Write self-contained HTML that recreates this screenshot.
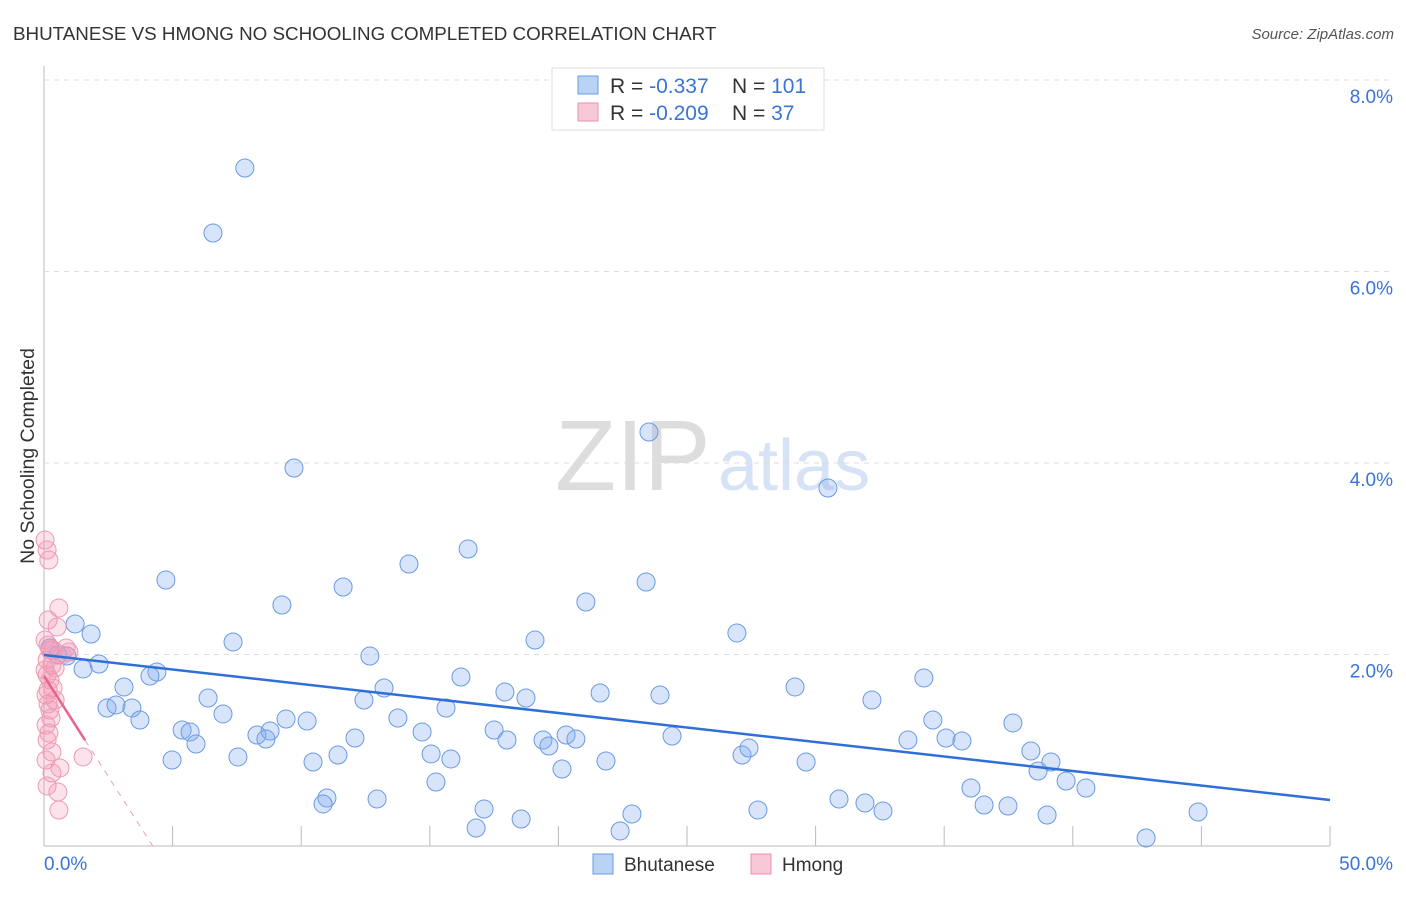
<!DOCTYPE html>
<html><head><meta charset="utf-8"><style>
body{margin:0;background:#fff;font-family:"Liberation Sans",sans-serif;}
svg text{font-family:"Liberation Sans",sans-serif;}
</style></head><body>
<svg id="c" width="1406" height="892">
<text x="13" y="40" font-size="18.8" fill="#333">BHUTANESE VS HMONG NO SCHOOLING COMPLETED CORRELATION CHART</text>
<text x="1394" y="39" font-size="15" fill="#555" font-style="italic" text-anchor="end">Source: ZipAtlas.com</text>
<text transform="translate(34,456) rotate(-90)" font-size="19.5" fill="#333" text-anchor="middle">No Schooling Completed</text>
<text x="555" y="490" font-size="100" fill="#ddd" font-family="Liberation Serif">ZIP</text>
<text x="718" y="490" font-size="72" fill="#d6e2f5">atlas</text>
<g id="grid"></g><g id="pts"></g><g id="lines"></g>
<g>
<rect x="552" y="68" width="272" height="62" fill="#fff" stroke="#ddd"/>
<rect x="578" y="76" width="20" height="18" fill="#b9d3f5" stroke="#6c9be0"/>
<rect x="578" y="103" width="20" height="18" fill="#f9c8d6" stroke="#ec8fab"/>
<text x="610" y="93" font-size="21" fill="#333">R = <tspan fill="#3a74d6">-0.337</tspan></text>
<text x="732" y="93" font-size="21" fill="#333">N = <tspan fill="#3a74d6">101</tspan></text>
<text x="610" y="120" font-size="21" fill="#333">R = <tspan fill="#3a74d6">-0.209</tspan></text>
<text x="732" y="120" font-size="21" fill="#333">N = <tspan fill="#3a74d6"> 37</tspan></text>
</g>
<g>
<rect x="593" y="854" width="20" height="20" fill="#b9d3f5" stroke="#6c9be0"/>
<text x="624" y="871" font-size="19" fill="#333">Bhutanese</text>
<rect x="751" y="854" width="20" height="20" fill="#f9c8d6" stroke="#ec8fab"/>
<text x="782" y="871" font-size="19" fill="#333">Hmong</text>
</g>
<text x="44" y="870" font-size="19" fill="#3a74d6">0.0%</text>
<text x="1393" y="870" font-size="19" fill="#3a74d6" text-anchor="end">50.0%</text>
</svg>
<script>
const yTicks=[2,4,6,8];
const xTicks=[0,5,10,15,20,25,30,35,40,45,50];
const bluePx=[[245,168],[213,233],[649,432],[294,468],[828,488],[468,549],[409,564],[166,580],[343,587],[646,582],[282,605],[586,602],[75,624],[91,634],[233,642],[535,640],[737,633],[50,648],[58,655],[67,656],[370,656],[99,664],[83,669],[157,672],[150,676],[461,677],[924,678],[124,687],[384,688],[795,687],[505,692],[600,693],[208,698],[660,695],[364,700],[526,698],[872,700],[107,708],[116,705],[132,708],[223,714],[446,708],[140,720],[286,719],[307,721],[398,718],[933,720],[1013,723],[182,730],[190,732],[422,732],[494,730],[270,731],[257,735],[266,739],[196,744],[355,738],[507,740],[543,740],[549,746],[566,735],[576,739],[672,736],[908,740],[946,738],[962,741],[238,757],[172,760],[313,762],[338,755],[431,754],[451,759],[742,755],[749,748],[1031,751],[1051,762],[806,762],[606,761],[562,769],[1038,771],[1066,781],[436,782],[971,788],[1086,788],[327,798],[323,804],[377,799],[839,799],[865,803],[484,809],[883,811],[632,814],[758,810],[984,805],[1008,806],[1198,812],[521,819],[1047,815],[476,828],[620,831],[1146,838]];
const pinkPx=[[45,540],[47,550],[49,560],[59,608],[48,620],[57,627],[45,640],[50,650],[66,648],[69,652],[47,660],[52,665],[55,668],[47,675],[53,688],[46,695],[48,704],[50,710],[51,718],[46,725],[49,733],[47,740],[83,757],[52,752],[46,760],[60,768],[52,773],[47,786],[58,792],[59,810],[53,650],[45,670],[50,680],[48,690],[55,700],[62,655],[48,645]];
// data values (x %, y %)
const blueX=bluePx.map(p=>+((p[0]-44)/1286*50).toFixed(2));
const blueY=bluePx.map(p=>+((846-p[1])/191.5*2).toFixed(3));
const pinkX=pinkPx.map(p=>+((p[0]-44)/1286*50).toFixed(2));
const pinkY=pinkPx.map(p=>+((846-p[1])/191.5*2).toFixed(3));
const blueTrend=[1.995,0.48];
const pinkTrend=[1.776,-0.42];
const X0=44,X1=1330,Y0=846,YS=191.5/2;
const sx=v=>X0+v/50*(X1-X0), sy=v=>Y0-v*YS;
const NS="http://www.w3.org/2000/svg";
function mk(t,a,parent){const e=document.createElementNS(NS,t);for(const k in a)e.setAttribute(k,a[k]);document.getElementById(parent).appendChild(e);return e;}
let e;
e=mk('line',{x1:X0,y1:66,x2:X0,y2:Y0,stroke:'#bbb','stroke-width':1},'grid');


e=mk('line',{x1:X0,y1:Y0,x2:X1,y2:Y0,stroke:'#bbb','stroke-width':1},'grid');


yTicks.forEach(t=>{
 e=mk('line',{x1:X0,y1:sy(t),x2:1394,y2:sy(t),stroke:'#ddd','stroke-dasharray':'5,5'},'grid');
 
 
 e=mk('text',{x:1393,y:sy(t)+23,'font-size':19,fill:'#3a74d6','text-anchor':'end'},'grid');
 e.textContent=t.toFixed(1)+'%';
 
 
});
xTicks.forEach(t=>{
 if(t===0)return;
 e=mk('line',{x1:sx(t),y1:826,x2:sx(t),y2:Y0,stroke:'#bbb'},'grid');
 
 
});
blueX.forEach((x,i)=>{
 e=mk('circle',{cx:sx(x),cy:sy(blueY[i]),r:9,fill:'rgba(130,172,238,0.32)',stroke:'#6a9be2','stroke-width':1},'pts');
 
 
});
pinkX.forEach((x,i)=>{
 e=mk('circle',{cx:sx(x),cy:sy(pinkY[i]),r:9,fill:'rgba(245,150,180,0.28)',stroke:'#ee9ab3','stroke-width':1},'pts');
 
 
});
e=mk('line',{x1:sx(0),y1:sy(blueTrend[0]),x2:sx(50),y2:sy(blueTrend[1]),stroke:'#2f6fd8','stroke-width':2.5},'lines');


const pf=x=>pinkTrend[0]+pinkTrend[1]*x, xs=1.6, xz=-pinkTrend[0]/pinkTrend[1];
e=mk('line',{x1:sx(0),y1:sy(pf(0)),x2:sx(xs),y2:sy(pf(xs)),stroke:'#e8648c','stroke-width':2.5},'lines');


e=mk('line',{x1:sx(xs),y1:sy(pf(xs)),x2:sx(xz),y2:sy(0),stroke:'#eda0b6','stroke-width':1,'stroke-dasharray':'6,6'},'lines');


</script>
</body></html>
